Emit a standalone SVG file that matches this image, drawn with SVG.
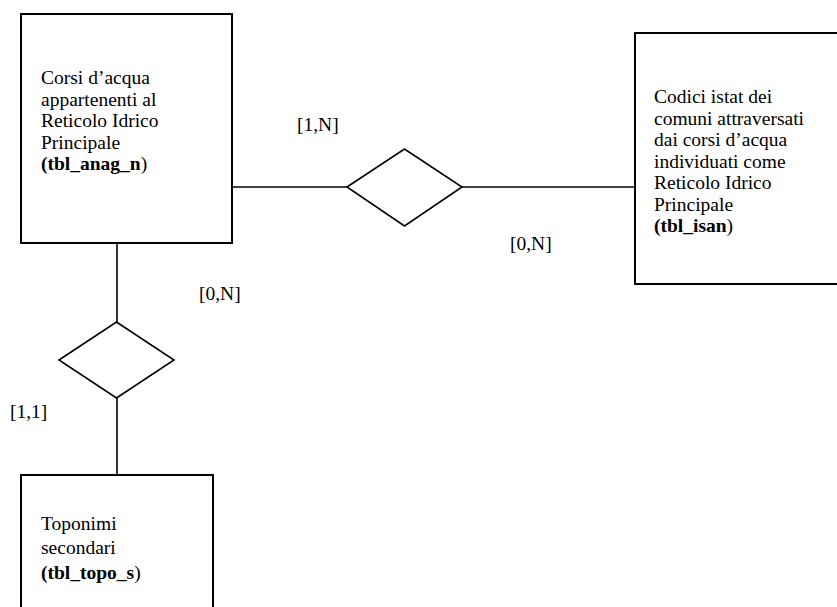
<svg xmlns="http://www.w3.org/2000/svg" width="837" height="607" viewBox="0 0 837 607">
<style>
.box{fill:#fff;stroke:#000;stroke-width:2}
.dia{fill:#fff;stroke:#000;stroke-width:1.6}
.ln{stroke:#000;stroke-width:1.6;fill:none}
text{font-family:"Liberation Serif","Times New Roman",serif;font-size:19.5px;fill:#000}
.b{font-weight:bold}
</style>
<rect width="837" height="607" fill="#fff"/>
<g id="connectors">
<line class="ln" x1="232" y1="187" x2="347" y2="187"/>
<line class="ln" x1="462" y1="187" x2="635" y2="187"/>
<line class="ln" x1="117" y1="243" x2="117" y2="322"/>
<line class="ln" x1="117" y1="398" x2="117" y2="475"/>
<text x="297" y="131">[1,N]</text>
<text x="510" y="250">[0,N]</text>
<text x="199" y="300">[0,N]</text>
<text x="10" y="418">[1,1]</text>
</g>
<g id="corsi">
<rect class="box" x="21" y="14" width="211" height="229"/>
<text x="41" y="84">Corsi d’acqua</text>
<text x="41" y="105.5">appartenenti al</text>
<text x="41" y="127">Reticolo Idrico</text>
<text x="41" y="148.5">Principale</text>
<text x="41" y="170"><tspan class="b">(tbl_anag_n</tspan>)</text>
</g>
<g id="codici">
<rect class="box" x="635" y="33" width="220" height="251"/>
<text x="654" y="103">Codici istat dei</text>
<text x="654" y="124.5">comuni attraversati</text>
<text x="654" y="146">dai corsi d’acqua</text>
<text x="654" y="167.5">individuati come</text>
<text x="654" y="189">Reticolo Idrico</text>
<text x="654" y="210.5">Principale</text>
<text x="654" y="232"><tspan class="b">(tbl_isan</tspan>)</text>
</g>
<g id="toponimi">
<rect class="box" x="21" y="475" width="192" height="160"/>
<text x="41" y="530">Toponimi</text>
<text x="41" y="554">secondari</text>
<text x="41" y="579"><tspan class="b">(tbl_topo_s</tspan>)</text>
</g>
<g id="rel1">
<polygon class="dia" points="347,187 404.5,149 462,187 404.5,226"/>
</g>
<g id="rel2">
<polygon class="dia" points="59,360 116.5,322 174,360 116.5,398"/>
</g>
</svg>
